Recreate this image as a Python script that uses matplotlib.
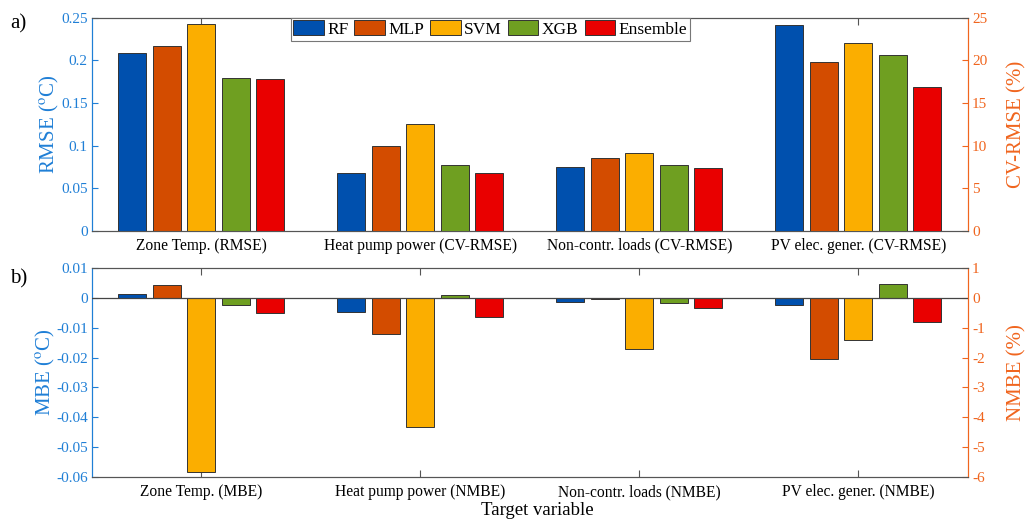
import matplotlib
matplotlib.use("Agg")
import matplotlib.pyplot as plt
import numpy as np
from matplotlib.patches import Patch

plt.rcParams['font.family'] = ['Liberation Serif', 'DejaVu Serif']
plt.rcParams['mathtext.fontset'] = 'stix'

models = ["RF", "MLP", "SVM", "XGB", "Ensemble"]
colors = ["#0050AE", "#D34C00", "#FBAE00", "#6F9F21", "#E90000"]

top_labels = ["Zone Temp. (RMSE)", "Heat pump power (CV-RMSE)",
              "Non-contr. loads (CV-RMSE)", "PV elec. gener. (CV-RMSE)"]
bot_labels = ["Zone Temp. (MBE)", "Heat pump power (NMBE)",
              "Non-contr. loads (NMBE)", "PV elec. gener. (NMBE)"]

# Zone temp RMSE (degC), per model
rmse_zone = [0.2088, 0.2175, 0.2425, 0.1795, 0.1783]
# CV-RMSE (%) rows: heat pump, non-contr loads, PV ; columns: models
cvrmse = [[6.74, 9.95, 12.58, 7.68, 6.74],
          [7.48, 8.54, 9.13, 7.72, 7.33],
          [24.22, 19.87, 22.10, 20.65, 16.89]]
# Zone temp MBE (degC)
mbe_zone = [0.0012, 0.0044, -0.0584, -0.0024, -0.0052]
# NMBE (%) rows: heat pump, non-contr loads, PV
nmbe = [[-0.46, -1.22, -4.31, 0.10, -0.65],
        [-0.15, -0.04, -1.72, -0.17, -0.35],
        [-0.25, -2.06, -1.40, 0.46, -0.80]]

left_ticks_top = [0, 0.05, 0.1, 0.15, 0.2, 0.25]
right_ticks_top = [0, 5, 10, 15, 20, 25]
left_ticks_bot = [0.01, 0, -0.01, -0.02, -0.03, -0.04, -0.05, -0.06]
right_ticks_bot = [1, 0, -1, -2, -3, -4, -5, -6]

BLUE = "#1F7FD6"
ORANGE = "#F0651E"
GRAY = "#555555"

fig = plt.figure(figsize=(10.33, 5.2), dpi=100)
ax_t = fig.add_axes([0.089, 0.556, 0.848, 0.4096])
ax_b = fig.add_axes([0.089, 0.0827, 0.848, 0.402])

pitch = 0.1575
width = 0.128
offsets = (np.arange(5) - 2) * pitch
xpos = np.arange(1, 5)


def style(ax, ax2, ylim_l, ylim_r, lt, rt, ylab_l, ylab_r, xlabels, lpad_l, lpad_r):
    ax.set_xlim(0.5, 4.5)
    ax2.set_xlim(0.5, 4.5)
    ax.set_ylim(*ylim_l)
    ax2.set_ylim(*ylim_r)
    ax.set_yticks(lt)
    ax.set_yticklabels([("%g" % v) for v in lt], color=BLUE, fontsize=11)
    ax2.set_yticks(rt)
    ax2.set_yticklabels([("%g" % v) for v in rt], color=ORANGE, fontsize=11)
    ax.set_xticks(xpos)
    ax.set_xticklabels(xlabels, fontsize=11.2)
    ax.tick_params(axis='x', direction='in', top=True, length=5, color=GRAY, pad=5)
    ax.tick_params(axis='y', direction='in', length=4, color=BLUE, pad=3)
    ax2.tick_params(axis='y', direction='in', length=4, color=ORANGE, pad=3)
    ax2.tick_params(axis='x', top=False, bottom=False, labelbottom=False)
    for a in (ax, ax2):
        a.spines['top'].set_color(GRAY)
        a.spines['bottom'].set_color(GRAY)
        a.spines['left'].set_color(BLUE)
        a.spines['right'].set_color(ORANGE)
        for s in a.spines.values():
            s.set_linewidth(0.8)
    ax.set_ylabel(ylab_l, color=BLUE, fontsize=15, labelpad=lpad_l)
    ax2.set_ylabel(ylab_r, color=ORANGE, fontsize=15, labelpad=lpad_r)


# ---- top panel ----
ax_t2 = ax_t.twinx()
for i in range(5):
    ax_t.bar(1 + offsets[i], rmse_zone[i], width, color=colors[i],
             edgecolor="#333333", linewidth=0.7, zorder=3)
    ax_t2.bar(xpos[1:] + offsets[i], [row[i] for row in cvrmse], width,
              color=colors[i], edgecolor="#333333", linewidth=0.7, zorder=3)
style(ax_t, ax_t2, (0, 0.25), (0, 25), left_ticks_top, right_ticks_top,
      r"RMSE ($^{\mathrm{o}}$C)", "CV-RMSE (%)", top_labels, 0, 14)

handles = [Patch(facecolor=c, edgecolor="#333333", linewidth=0.7) for c in colors]
leg = ax_t2.legend(handles, models, loc='upper center', bbox_to_anchor=(0.4545, 1.0),
                   ncol=5, fontsize=12.5, frameon=True, fancybox=False,
                   edgecolor="#777777", framealpha=1, borderpad=0.15,
                   handlelength=1.75, handleheight=0.95, handletextpad=0.2,
                   columnspacing=0.35, borderaxespad=0.0)
leg.get_frame().set_linewidth(0.8)

# ---- bottom panel ----
ax_b2 = ax_b.twinx()
for i in range(5):
    ax_b.bar(1 + offsets[i], mbe_zone[i], width, color=colors[i],
             edgecolor="#333333", linewidth=0.7, zorder=3)
    ax_b2.bar(xpos[1:] + offsets[i], [row[i] for row in nmbe], width,
              color=colors[i], edgecolor="#333333", linewidth=0.7, zorder=3)
ax_b2.axhline(0, color="#444444", linewidth=0.9, zorder=4)
style(ax_b, ax_b2, (-0.06, 0.01), (-6, 1), left_ticks_bot, right_ticks_bot,
      r"MBE ($^{\mathrm{o}}$C)", "NMBE (%)", bot_labels, -1, 16)
ax_b.set_xlabel("Target variable", fontsize=13.5, va='bottom')
ax_b.xaxis.set_label_coords(0.508, -0.2)

fig.text(0.010, 0.945, "a)", fontsize=15)
fig.text(0.010, 0.455, "b)", fontsize=15)

fig.savefig("out.png", dpi=100)
